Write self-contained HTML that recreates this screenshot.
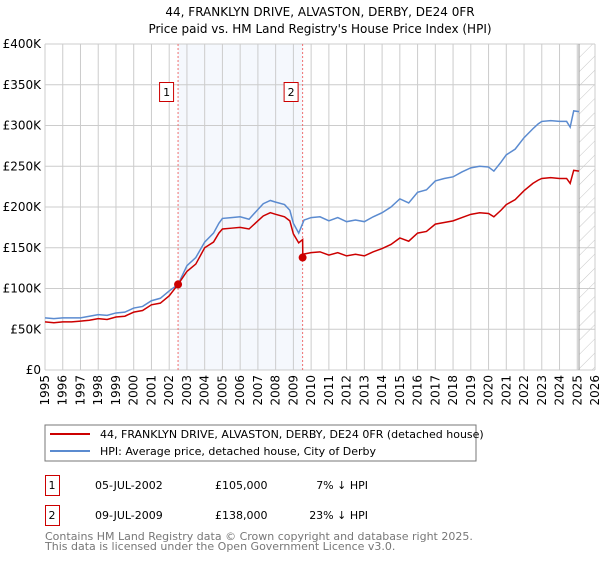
<!DOCTYPE html>
<html><head><meta charset="utf-8"><style>
body{margin:0;background:#fff;font-family:"DejaVu Sans","Liberation Sans",sans-serif;}
svg text{font-family:"DejaVu Sans","Liberation Sans",sans-serif;}
</style></head><body>
<svg id="c" width="600" height="560" xmlns="http://www.w3.org/2000/svg">
<text x="320" y="16" text-anchor="middle" font-size="12">44, FRANKLYN DRIVE, ALVASTON, DERBY, DE24 0FR</text>
<text x="320" y="33" text-anchor="middle" font-size="12">Price paid vs. HM Land Registry's House Price Index (HPI)</text>
<defs><pattern id="hatch" width="10" height="10" patternUnits="userSpaceOnUse" patternTransform="rotate(45)"><line x1="0" y1="0" x2="0" y2="10" stroke="#c8c8c8" stroke-width="1"/></pattern></defs>
<g id="plot"></g>
<rect x="45" y="425" width="431" height="36" fill="#fff" stroke="#777"/>
<line x1="50" y1="434" x2="90" y2="434" stroke="#cc0000" stroke-width="2"/>
<text x="100" y="438" font-size="11">44, FRANKLYN DRIVE, ALVASTON, DERBY, DE24 0FR (detached house)</text>
<line x1="50" y1="451" x2="90" y2="451" stroke="#5b8bd0" stroke-width="2"/>
<text x="100" y="455" font-size="11">HPI: Average price, detached house, City of Derby</text>
<g>
<rect x="45.5" y="475.5" width="14" height="20" fill="none" stroke="#cc0000"/>
<text x="52" y="489" font-size="11" text-anchor="middle">1</text>
<text x="95" y="489" font-size="11">05-JUL-2002</text>
<text x="215" y="489" font-size="11">£105,000</text>
<text x="368" y="489" font-size="11" text-anchor="end">7% ↓ HPI</text></g>
<g>
<rect x="45.5" y="505.5" width="14" height="20" fill="none" stroke="#cc0000"/>
<text x="52" y="519" font-size="11" text-anchor="middle">2</text>
<text x="95" y="519" font-size="11">09-JUL-2009</text>
<text x="215" y="519" font-size="11">£138,000</text>
<text x="368" y="519" font-size="11" text-anchor="end">23% ↓ HPI</text></g>
<text x="45" y="540" font-size="11" fill="#777">Contains HM Land Registry data © Crown copyright and database right 2025.</text>
<text x="45" y="550" font-size="11" fill="#777">This data is licensed under the Open Government Licence v3.0.</text>
</svg>
<script>
const hpiYears=[1995,1995.5,1996,1996.5,1997,1997.5,1998,1998.5,1999,1999.5,2000,2000.5,2001,2001.5,2002,2002.5,2003,2003.5,2004,2004.5,2004.8,2005,2005.5,2006,2006.5,2007,2007.3,2007.7,2008,2008.5,2008.8,2009,2009.3,2009.6,2010,2010.5,2011,2011.5,2012,2012.5,2013,2013.5,2014,2014.5,2015,2015.5,2016,2016.5,2017,2017.5,2018,2018.5,2019,2019.5,2020,2020.3,2020.7,2021,2021.5,2022,2022.5,2022.8,2023,2023.5,2024,2024.4,2024.6,2024.8,2025.1];
const hpiValues=[64,63,64,64,64,66,68,67,70,71,76,78,85,88,97,105,128,138,157,168,180,186,187,188,185,197,204,208,206,203,196,180,168,184,187,188,183,187,182,184,182,188,193,200,210,205,218,221,232,235,237,243,248,250,249,244,255,264,271,285,296,302,305,306,305,305,298,318,317];
const priceYears=[1995,1995.5,1996,1996.5,1997,1997.5,1998,1998.5,1999,1999.5,2000,2000.5,2001,2001.5,2002,2002.5,2003,2003.5,2004,2004.5,2004.8,2005,2005.5,2006,2006.5,2007,2007.3,2007.7,2008,2008.5,2008.8,2009,2009.3,2009.52,2009.53,2010,2010.5,2011,2011.5,2012,2012.5,2013,2013.5,2014,2014.5,2015,2015.5,2016,2016.5,2017,2017.5,2018,2018.5,2019,2019.5,2020,2020.3,2020.7,2021,2021.5,2022,2022.5,2022.8,2023,2023.5,2024,2024.4,2024.6,2024.8,2025.1];
const priceValues=[59,58,59,59,60,61,63,62,65,66,71,73,80,82,91,105,121,130,150,157,168,173,174,175,173,183,189,193,191,188,183,167,156,160,142,144,145,141,144,140,142,140,145,149,154,162,158,168,170,179,181,183,187,191,193,192,188,196,203,209,220,229,233,235,236,235,235,229,245,244];
const saleYears=[2002.5,2009.52];
const saleValues=[105,138];
const saleLabels=["1","2"];
const yTicks=[0,50,100,150,200,250,300,350,400];
const yTickLabels=["£0","£50K","£100K","£150K","£200K","£250K","£300K","£350K","£400K"];
const xTicks=[1995,1996,1997,1998,1999,2000,2001,2002,2003,2004,2005,2006,2007,2008,2009,2010,2011,2012,2013,2014,2015,2016,2017,2018,2019,2020,2021,2022,2023,2024,2025,2026];

const X0=45,X1=595,Y0=370,Y1=44;
const xs=y=>X0+(y-1995)/(2026-1995)*(X1-X0);
const ys=v=>Y0-v/400*(Y0-Y1);
const NS="http://www.w3.org/2000/svg";
const g=document.getElementById('plot');
function mk(t,a){const e=document.createElementNS(NS,t);for(const k in a)e.setAttribute(k,a[k]);g.appendChild(e);return e;}
let e;
e=mk('rect',{x:xs(2002.5),y:Y1,width:xs(2009.52)-xs(2002.5),height:Y0-Y1,fill:'#eef3fc',opacity:0.6});


e=mk('rect',{x:xs(2025.1),y:Y1,width:X1-xs(2025.1),height:Y0-Y1,fill:'url(#hatch)'});


yTicks.forEach((v,i)=>{
 e=mk('line',{x1:X0,x2:X1,y1:ys(v),y2:ys(v),stroke:'#ccc'});
 
 
 e=mk('text',{x:X0-4,y:ys(v)+4,'text-anchor':'end','font-size':'12'});e.textContent=yTickLabels[i];
 
 
});
xTicks.forEach(t=>{
 e=mk('line',{x1:xs(t),x2:xs(t),y1:Y1,y2:Y0,stroke:'#ccc'});
 
 
 e=mk('text',{x:0,y:0,'font-size':'12','text-anchor':'end',transform:`translate(${xs(t)+4},${Y0+5}) rotate(-90)`});e.textContent=t;
 
 
});
e=mk('line',{x1:xs(2025.1),x2:xs(2025.1),y1:Y1,y2:Y0,stroke:'#999','stroke-width':1});


saleYears.forEach((y,i)=>{
 e=mk('line',{x1:xs(y),x2:xs(y),y1:Y1,y2:Y0,stroke:'#f07070','stroke-dasharray':'2,2'});
 
 
 e=mk('rect',{x:xs(y)-18.5,y:82.5,width:14,height:19,fill:'#fff',stroke:'#cc0000'});
 
 
 e=mk('text',{x:xs(y)-11.5,y:96,'text-anchor':'middle','font-size':'11'});e.textContent=saleLabels[i];
 
 
});
e=mk('polyline',{points:hpiYears.map((y,i)=>xs(y)+','+ys(hpiValues[i])).join(' '),fill:'none',stroke:'#5b8bd0','stroke-width':1.5});


e=mk('polyline',{points:priceYears.map((y,i)=>xs(y)+','+ys(priceValues[i])).join(' '),fill:'none',stroke:'#cc0000','stroke-width':1.5});


saleYears.forEach((y,i)=>{
 e=mk('circle',{cx:xs(y),cy:ys(saleValues[i]),r:4,fill:'#cc0000'});
 
 
});
</script>
</body></html>
